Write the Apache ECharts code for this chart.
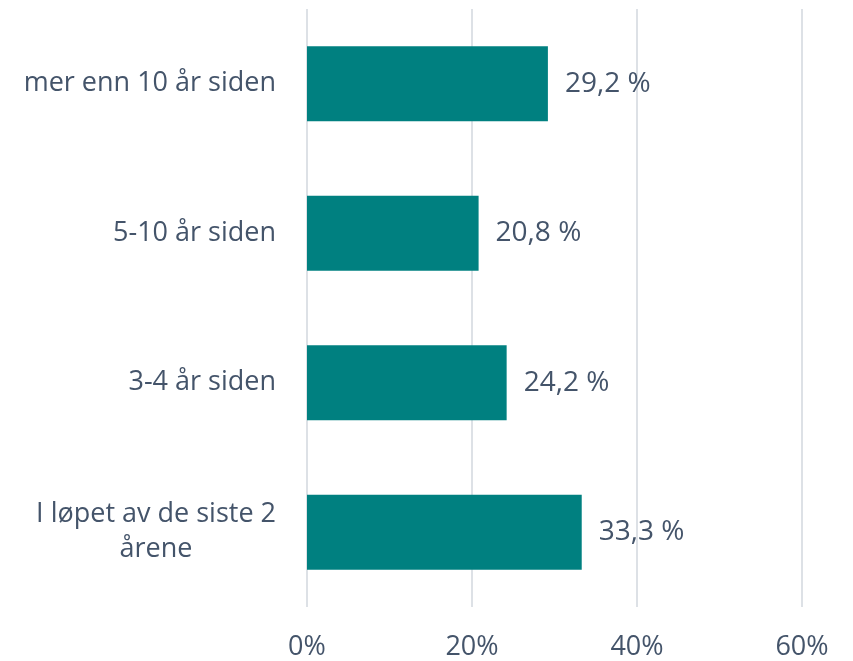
<!DOCTYPE html>
<html lang="no">
<head>
    <meta charset="UTF-8">
    <title>Stolpediagram</title>
    <script type="text/javascript" src="https://cdn.jsdelivr.net/npm/echarts@6/dist/echarts.min.js"></script>
    <style type="text/css">
        html,body{margin:0;padding:0;background:#fff;}
        #main{width:853px;height:661px;}
    </style>
</head>
<body>
<div id="main"></div>
<script type="text/javascript">
    // kategorier nedenfra og opp
    var categories = ['I løpet av de siste 2\nårene', '3-4 år siden', '5-10 år siden', 'mer enn 10 år siden'];
    var values = [33.3, 24.2, 20.8, 29.2];
    var ticks = [0, 20, 40, 60];

    var textColor = '#44546a';
    var font = '"Open Sans", sans-serif';

    var myChart = echarts.init(document.getElementById('main'));
    var option = {
        animation: false,
        grid: {left: 307, right: 51, top: 9, bottom: 54},
        xAxis: {
            type: 'value',
            min: ticks[0],
            max: ticks[ticks.length - 1],
            interval: 20,
            axisLine: {show: false},
            axisTick: {show: false},
            splitLine: {lineStyle: {color: '#dde1e6', width: 2}},
            axisLabel: {
                formatter: '{value}%',
                color: textColor,
                fontFamily: font,
                fontSize: 27,
                margin: 27
            }
        },
        yAxis: {
            type: 'category',
            data: categories,
            axisLine: {show: false},
            axisTick: {show: false},
            axisLabel: {
                color: textColor,
                fontFamily: font,
                fontSize: 27,
                margin: 31,
                lineHeight: 35,
                formatter: function (v) {
                    return '{c|' + v.split('\n').join('}\n{c|') + '}';
                },
                rich: {
                    c: {align: 'center', color: textColor, fontFamily: font, fontSize: 27, lineHeight: 35}
                }
            }
        },
        series: [{
            type: 'bar',
            data: values,
            barWidth: 75,
            itemStyle: {color: '#008080'},
            label: {
                show: true,
                position: 'right',
                distance: 17,
                color: textColor,
                fontFamily: font,
                fontSize: 28,
                formatter: function (p) {
                    return p.value.toFixed(1).replace('.', ',') + ' %';
                }
            }
        }]
    };
    myChart.setOption(option);
</script>
</body>
</html>
